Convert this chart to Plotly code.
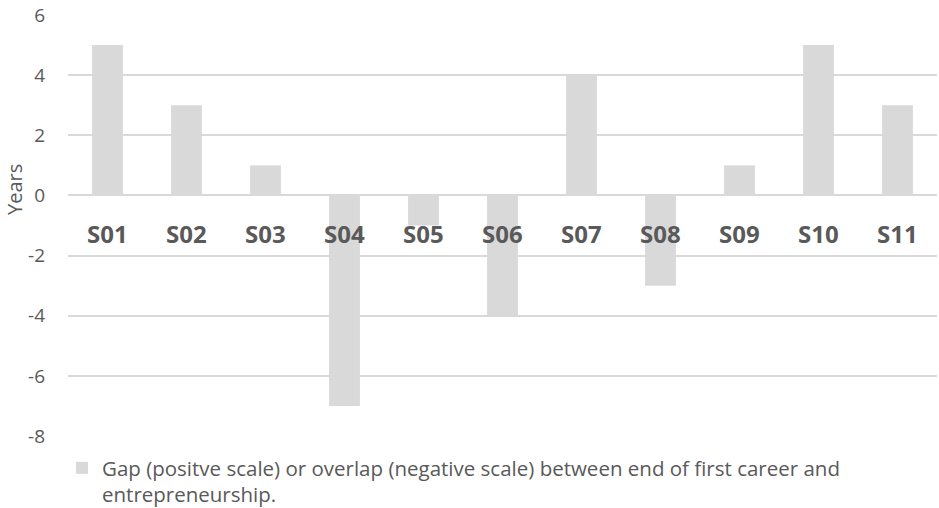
import plotly.graph_objects as go

categories = ["S01", "S02", "S03", "S04", "S05", "S06", "S07", "S08", "S09", "S10", "S11"]
years = [5, 3, 1, -7, -1, -4, 4, -3, 1, 5, 3]
y_ticks = [-8, -6, -4, -2, 0, 2, 4, 6]
y_tick_text = ["-8", "-6", "-4", "-2", "0", "2", "4", "6"]
series_name = ("Gap (positve scale) or overlap (negative scale) between end of first career and"
               "<br>entrepreneurship.")

TEXT = "#595959"
GRID = "#d9d9d9"
BAR = "#d9d9d9"

W, H = 939, 508
L, R, T, B = 68, 2, 15, 72
PW, PH = W - L - R, H - T - B


def px_x(px):
    return (px - L) / PW


def px_y(py):
    return (H - B - py) / PH


fig = go.Figure()
fig.add_trace(go.Bar(
    x=categories, y=years, name=series_name,
    marker=dict(color=BAR, line=dict(width=0)),
    width=0.39, showlegend=True,
))

# category labels sit just below the zero line
for c in categories:
    fig.add_annotation(x=c, y=-1.27, text="<b>%s</b>" % c, showarrow=False,
                       xref="x", yref="y", xanchor="center", yanchor="middle",
                       font=dict(family="Open Sans", size=24, color=TEXT))

fig.add_annotation(x=px_x(14), y=px_y(190), xref="paper", yref="paper", text="Years",
                   showarrow=False, textangle=-90, xanchor="center", yanchor="middle",
                   font=dict(family="Open Sans", size=20, color=TEXT))

fig.update_layout(
    width=W, height=H,
    margin=dict(l=L, r=R, t=T, b=B, autoexpand=False),
    paper_bgcolor="white", plot_bgcolor="white",
    xaxis=dict(showticklabels=False, showgrid=False, zeroline=False,
               showline=False, ticks=""),
    yaxis=dict(range=[-8, 6], tickvals=y_ticks, ticktext=y_tick_text,
               showgrid=True, gridcolor=GRID,
               gridwidth=1.5, zeroline=True, zerolinecolor=GRID, zerolinewidth=1.5,
               showline=False, ticks="", ticklabelstandoff=22,
               tickfont=dict(family="Open Sans", size=19, color=TEXT)),
    legend=dict(orientation="h", x=px_x(62), y=px_y(448), xanchor="left", yanchor="top",
                valign="top", font=dict(family="Open Sans", size=20.5, color=TEXT),
                itemwidth=30, tracegroupgap=0),
    showlegend=True,
)

fig.write_html("out.html")
